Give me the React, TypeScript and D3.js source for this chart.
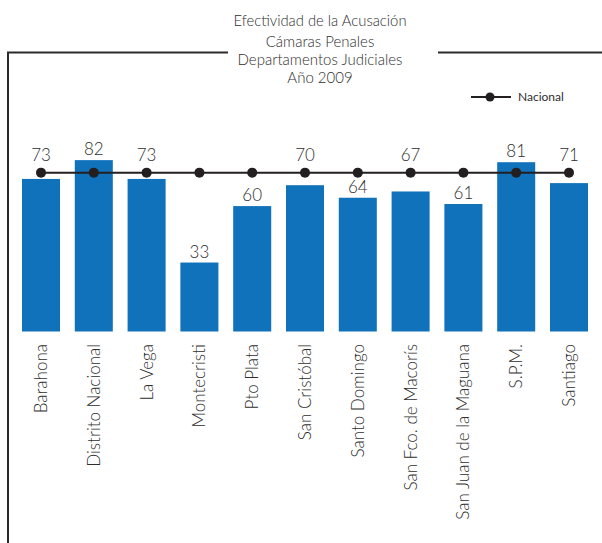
import React from "react";
import * as d3 from "d3";

const categories = [
  "Barahona",
  "Distrito Nacional",
  "La Vega",
  "Montecristi",
  "Pto Plata",
  "San Cristóbal",
  "Santo Domingo",
  "San Fco. de Macorís",
  "San Juan de la Maguana",
  "S.P.M.",
  "Santiago",
];
const values = [73, 82, 73, 33, 60, 70, 64, 67, 61, 81, 71];
const nacional = [76, 76, 76, 76, 76, 76, 76, 76, 76, 76, 76];
const titleLines = [
  "Efectividad de la Acusación",
  "Cámaras Penales",
  "Departamentos Judiciales",
  "Año 2009",
];
const legendLabel = "Nacional";

const W = 602;
const H = 543;
const FONT = "Lato, 'Open Sans', sans-serif";
const BAR = "#1072BA";
const INK = "#231f20";
const TEXT = "#2e2e2e";

export default function App() {
  const x = d3
    .scaleBand<string>()
    .domain(categories)
    .range([14.6, 595.4])
    .paddingInner(0.28)
    .paddingOuter(0.14);
  const y = d3.scaleLinear().domain([0, 100]).range([331.5, 122.5]);
  const cx = (c: string) => (x(c) as number) + x.bandwidth() / 2;

  const linePath =
    d3
      .line<number>()
      .x((_, i) => cx(categories[i]))
      .y((d) => y(d))(nacional) || "";

  const titleBaselines = [26, 46.5, 65, 82.5];
  const titleSizes = [14.8, 15, 15, 15];

  return (
    <svg
      width={W}
      height={H}
      style={{ position: "absolute", left: 0, top: 0, background: "#fff" }}
      fontFamily={FONT}
    >
      <rect x={0} y={0} width={W} height={H} fill="#fff" />
      {/* frame */}
      <path
        d={`M8,${H} V52.5 H228 M438,52.5 H${W}`}
        fill="none"
        stroke="#2b2b2b"
        strokeWidth={2}
      />
      {/* title */}
      {titleLines.map((t, i) => (
        <text
          key={t}
          x={320}
          y={titleBaselines[i]}
          textAnchor="middle"
          fontSize={titleSizes[i]}
          fill={TEXT}
          fontWeight={300}
        >
          {t}
        </text>
      ))}
      {/* legend */}
      <line x1={471} x2={511} y1={97} y2={97} stroke={INK} strokeWidth={2} />
      <circle cx={490} cy={97} r={4.5} fill={INK} />
      <text x={518} y={100.7} fontSize={12} fill={TEXT}>
        {legendLabel}
      </text>
      {/* bars */}
      {categories.map((c, i) => (
        <rect
          key={c}
          x={x(c)}
          y={y(values[i])}
          width={x.bandwidth()}
          height={y(0) - y(values[i])}
          fill={BAR}
        />
      ))}
      {/* nacional line */}
      <path d={linePath} fill="none" stroke={INK} strokeWidth={2} />
      {nacional.map((v, i) => (
        <circle key={i} cx={cx(categories[i])} cy={y(v)} r={5} fill={INK} />
      ))}
      {/* value labels */}
      {categories.map((c, i) => {
        const top = y(values[i]);
        const lineY = y(nacional[i]);
        const base = top - 5 < lineY + 17 ? Math.min(top - 5, lineY - 12) : top - 5;
        return (
          <text
            key={c}
            x={cx(c)}
            y={base}
            textAnchor="middle"
            fontSize={17}
            fill={TEXT}
            fontWeight={300}
          >
            {values[i]}
          </text>
        );
      })}
      {/* category labels */}
      {categories.map((c) => (
        <text
          key={c}
          transform={`translate(${cx(c)},344) rotate(-90)`}
          textAnchor="end"
          dy="0.35em"
          fontSize={17}
          fill={TEXT}
          fontWeight={300}
        >
          {c}
        </text>
      ))}
    </svg>
  );
}
